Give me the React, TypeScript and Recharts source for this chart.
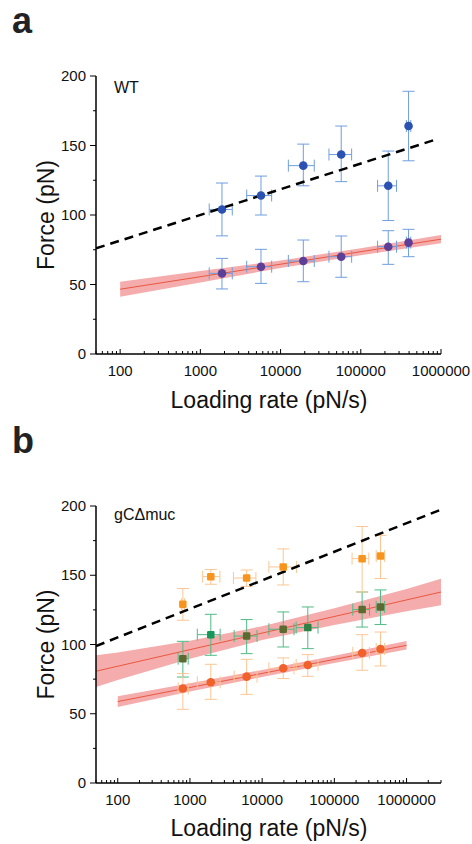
import React from 'react';
import { ComposedChart, XAxis, YAxis, Scatter, ErrorBar, Area, Line } from 'recharts';

const FONT = '"Liberation Sans", Arial, Helvetica, sans-serif';

// ---------- Panel a (WT) ----------
const aRates = [1860, 5700, 19200, 57000, 220000, 394000];
const aRateLo = [1290, 3780, 12500, 40100, 162000, 370000];
const aRateHi = [2500, 7740, 26300, 76900, 279000, 420000];
const aHighForce = [104, 114, 135.5, 143.5, 121, 164];
const aHighLo = [85, 100, 121, 124, 96, 139];
const aHighHi = [123, 128, 151, 164, 146, 189];
const aLowForce = [58, 62.8, 66.9, 70, 77.2, 80.1];
const aLowLo = [46.8, 50.8, 52, 55.2, 64.5, 70];
const aLowHi = [68.8, 75.3, 82, 84.9, 88.7, 89.7];
const aFitX = [100, 1000000];
const aFitY = [46.6, 82.6];
const aBandX = [100, 1000, 10000, 100000, 1000000];
const aBandLo = [41.2, 51.5, 61.9, 71.1, 79.6];
const aBandHi = [52, 59.7, 67.3, 76.1, 85.6];
const aDashX = [50, 830000];
const aDashY = [76, 154];

// ---------- Panel b (gCΔmuc) ----------
const bRates = [798, 1945, 6100, 19600, 42900, 242600, 436000];
const bRateLo = [687, 1265, 4100, 12400, 29600, 180000, 380000];
const bRateHi = [946, 2620, 8500, 27600, 59400, 307000, 497000];
const bGreenForce = [89.8, 107.1, 106.1, 111, 112.2, 125.2, 127.1];
const bGreenLo = [76.5, 92.2, 93.4, 98.2, 97, 112.6, 114.4];
const bGreenHi = [102.3, 121.8, 118, 123.5, 127.1, 137.9, 139.4];
const bLowForce = [68.2, 72.7, 76.8, 82.8, 85.2, 93.9, 96.8];
const bLowLo = [53.2, 60.4, 64, 75.4, 77, 81.4, 84.5];
const bLowHi = [79, 85.7, 89.3, 90.3, 92.7, 107.1, 109];
const bHighRates = [798, 1945, 6100, 19600, 242600, 436000];
const bHighRateLo = [760, 1500, 4000, 12400, 176000, 380000];
const bHighRateHi = [840, 2600, 8200, 30000, 300000, 497000];
const bHighForce = [129.1, 149, 148, 156, 162, 163.9];
const bHighLo = [117.5, 143.5, 142, 143, 137.9, 147.6];
const bHighHi = [140.4, 154.1, 153.8, 169, 185.2, 178.8];
const bFitUX = [50, 3000000];
const bFitUY = [80.7, 137.9];
const bBandUX = [50, 100, 1000, 10000, 100000, 1000000, 3000000];
const bBandULo = [69.3, 74.3, 89.7, 103.2, 114.1, 124, 128.3];
const bBandUHi = [92.2, 94.3, 102.7, 113.2, 126.1, 140, 147.5];
const bFitLX = [100, 1000000];
const bFitLY = [58.8, 99.4];
const bBandLX = [100, 1000, 10000, 100000, 1000000];
const bBandLLo = [54.9, 66, 76.6, 86.6, 96.3];
const bBandLHi = [62.6, 72, 81.6, 91.9, 102.5];
const bDashX = [50, 3000000];
const bDashY = [98.9, 197.4];

// ---------- Ticks ----------
const xMajor = [100, 1000, 10000, 100000, 1000000];
const xMinorMult = [2, 3, 4, 5, 6, 7, 8, 9];
const yTicks = [0, 25, 50, 75, 100, 125, 150, 175, 200];
const yMajor = [0, 50, 100, 150, 200];

// ---------- Marker colours (points seen through the translucent band look tinted) ----------
const BLUE = '#2b52b3';
const BLUE_UNDER_BAND = '#5e3f98';
const BLUE_ERR = '#6f9ee0';
const BAND = '#e84848';
const FIT = '#e9583f';
const ORANGE = '#f7941d';
const ORANGE_UNDER_BAND = '#f0612b';
const ORANGE_ERR = '#fbc693';
const GREEN = '#17985a';
const OLIVE = '#5c6a30';
const GREEN_ERR = '#4fbb85';
const bGreenColors = [OLIVE, GREEN, OLIVE, OLIVE, '#2f8246', OLIVE, OLIVE];

const buildXTicks = (maxV: number) => {
  const t: number[] = [50, 60, 70, 80, 90];
  xMajor.forEach((d) => {
    t.push(d);
    xMinorMult.forEach((m) => {
      if (d * m <= maxV * 1.0001) t.push(d * m);
    });
  });
  return t.filter((v) => v <= maxV * 1.0001);
};

const points = (xs: number[], lo: number[], hi: number[], ys: number[], ylo: number[], yhi: number[]) =>
  xs.map((x, i) => ({
    x,
    y: ys[i],
    idx: i,
    ex: [x - lo[i], hi[i] - x],
    ey: [ys[i] - ylo[i], yhi[i] - ys[i]],
  }));
const line = (xs: number[], ys: number[]) => xs.map((x, i) => ({ x, y: ys[i] }));
const band = (xs: number[], lo: number[], hi: number[]) => xs.map((x, i) => ({ x, range: [lo[i], hi[i]] }));

const isMajorX = (v: number) => xMajor.some((m) => Math.abs(m - v) / m < 1e-6);

const XTick = (props: any) => {
  const { x, y, payload } = props;
  const v = payload.value;
  const major = isMajorX(v);
  return (
    <g>
      <line x1={x} x2={x} y1={y} y2={y - (major ? 5 : 3)} stroke="#000" strokeWidth={1} />
      {major && (
        <text x={x} y={y + 22} textAnchor="middle" fontSize={15} fontFamily={FONT} fill="#111">
          {String(v)}
        </text>
      )}
    </g>
  );
};

const YTick = (props: any) => {
  const { x, y, payload } = props;
  const v = payload.value;
  const major = yMajor.includes(v);
  return (
    <g>
      <line x1={x - (major ? 6 : 3)} x2={x} y1={y} y2={y} stroke="#000" strokeWidth={1} />
      {major && (
        <text x={x - 10} y={y + 5} textAnchor="end" fontSize={15} fontFamily={FONT} fill="#111">
          {String(v)}
        </text>
      )}
    </g>
  );
};

const circleShape = (fill: string, r = 4.3) => (p: any) => <circle cx={p.cx} cy={p.cy} r={r} fill={fill} />;
const squareShape = (fill: string | string[], s = 7.5) => (p: any) => {
  const idx = p.payload && typeof p.payload.idx === 'number' ? p.payload.idx : 0;
  const f = Array.isArray(fill) ? fill[idx] : fill;
  return <rect x={p.cx - s / 2} y={p.cy - s / 2} width={s} height={s} rx={1.2} fill={f} />;
};

const W = 472;
const H = 422;

const axisProps = {
  axisLine: { stroke: '#000', strokeWidth: 1.5 },
  tickLine: false,
  tickSize: 0,
  tickMargin: 0,
  interval: 0 as const,
};

const PanelTexts = ({ top, letter, letterY, note, noteY, plotTop, plotBottom, titleY }: any) => {
  const cy = top + (plotTop + plotBottom) / 2;
  return (
    <g>
      <text x={12} y={top + letterY} fontSize={36} fontWeight="bold" fontFamily={FONT} fill="#222">
        {letter}
      </text>
      <text x={114} y={top + noteY} fontSize={16} fontFamily={FONT} fill="#111">
        {note}
      </text>
      <text
        x={54}
        y={cy}
        transform={`rotate(-90 54 ${cy})`}
        textAnchor="middle"
        fontSize={23}
        fontFamily={FONT}
        fill="#111"
      >
        Force (pN)
      </text>
      <text x={269} y={top + titleY} textAnchor="middle" fontSize={23} fontFamily={FONT} fill="#111">
        Loading rate (pN/s)
      </text>
    </g>
  );
};

const PanelA = () => {
  const hi = points(aRates, aRateLo, aRateHi, aHighForce, aHighLo, aHighHi);
  const lo = points(aRates, aRateLo, aRateHi, aLowForce, aLowLo, aLowHi);
  return (
    <div style={{ position: 'absolute', left: 0, top: 0, width: W, height: H }}>
      <ComposedChart width={W} height={H} margin={{ top: 76, right: 31, bottom: 38, left: 36 }}>
        <XAxis
          dataKey="x"
          type="number"
          scale="log"
          domain={[50, 1000000]}
          allowDataOverflow
          ticks={buildXTicks(1000000)}
          tick={<XTick />}
          height={30}
          {...axisProps}
        />
        <YAxis type="number" domain={[0, 200]} ticks={yTicks} tick={<YTick />} width={60} allowDataOverflow {...axisProps} />
        <Area
          data={band(aBandX, aBandLo, aBandHi)}
          dataKey="range"
          type="linear"
          stroke="none"
          fill={BAND}
          fillOpacity={0.45}
          isAnimationActive={false}
        />
        <Line data={line(aFitX, aFitY)} dataKey="y" type="linear" stroke={FIT} strokeWidth={1} dot={false} isAnimationActive={false} />
        <Scatter data={lo} dataKey="y" shape={circleShape(BLUE_UNDER_BAND)} isAnimationActive={false}>
          <ErrorBar dataKey="ey" direction="y" width={6} stroke={BLUE_ERR} strokeWidth={1} />
          <ErrorBar dataKey="ex" direction="x" width={6} stroke={BLUE_ERR} strokeWidth={1} />
        </Scatter>
        <Scatter data={hi} dataKey="y" shape={circleShape(BLUE)} isAnimationActive={false}>
          <ErrorBar dataKey="ey" direction="y" width={6} stroke={BLUE_ERR} strokeWidth={1} />
          <ErrorBar dataKey="ex" direction="x" width={6} stroke={BLUE_ERR} strokeWidth={1} />
        </Scatter>
        <Line
          data={line(aDashX, aDashY)}
          dataKey="y"
          type="linear"
          stroke="#000"
          strokeWidth={2.5}
          strokeDasharray="9 6"
          dot={false}
          isAnimationActive={false}
        />
      </ComposedChart>
    </div>
  );
};

const PanelB = () => {
  const green = points(bRates, bRateLo, bRateHi, bGreenForce, bGreenLo, bGreenHi);
  const low = points(bRates, bRateLo, bRateHi, bLowForce, bLowLo, bLowHi);
  const high = points(bHighRates, bHighRateLo, bHighRateHi, bHighForce, bHighLo, bHighHi);
  return (
    <div style={{ position: 'absolute', left: 0, top: H, width: W, height: H }}>
      <ComposedChart width={W} height={H} margin={{ top: 84, right: 31, bottom: 31, left: 36 }}>
        <XAxis
          dataKey="x"
          type="number"
          scale="log"
          domain={[50, 3000000]}
          allowDataOverflow
          ticks={buildXTicks(3000000)}
          tick={<XTick />}
          height={30}
          {...axisProps}
        />
        <YAxis type="number" domain={[0, 200]} ticks={yTicks} tick={<YTick />} width={60} allowDataOverflow {...axisProps} />
        <Area
          data={band(bBandUX, bBandULo, bBandUHi)}
          dataKey="range"
          type="linear"
          stroke="none"
          fill={BAND}
          fillOpacity={0.45}
          isAnimationActive={false}
        />
        <Area
          data={band(bBandLX, bBandLLo, bBandLHi)}
          dataKey="range"
          type="linear"
          stroke="none"
          fill={BAND}
          fillOpacity={0.45}
          isAnimationActive={false}
        />
        <Line data={line(bFitUX, bFitUY)} dataKey="y" type="linear" stroke={FIT} strokeWidth={1} dot={false} isAnimationActive={false} />
        <Line data={line(bFitLX, bFitLY)} dataKey="y" type="linear" stroke={FIT} strokeWidth={1} dot={false} isAnimationActive={false} />
        <Scatter data={green} dataKey="y" shape={squareShape(bGreenColors)} isAnimationActive={false}>
          <ErrorBar dataKey="ey" direction="y" width={6} stroke={GREEN_ERR} strokeWidth={1} />
          <ErrorBar dataKey="ex" direction="x" width={6} stroke={GREEN_ERR} strokeWidth={1} />
        </Scatter>
        <Scatter data={low} dataKey="y" shape={circleShape(ORANGE_UNDER_BAND)} isAnimationActive={false}>
          <ErrorBar dataKey="ey" direction="y" width={6} stroke={ORANGE_ERR} strokeWidth={1} />
          <ErrorBar dataKey="ex" direction="x" width={6} stroke={ORANGE_ERR} strokeWidth={1} />
        </Scatter>
        <Scatter data={high} dataKey="y" shape={squareShape(ORANGE)} isAnimationActive={false}>
          <ErrorBar dataKey="ey" direction="y" width={6} stroke={ORANGE_ERR} strokeWidth={1} />
          <ErrorBar dataKey="ex" direction="x" width={6} stroke={ORANGE_ERR} strokeWidth={1} />
        </Scatter>
        <Line
          data={line(bDashX, bDashY)}
          dataKey="y"
          type="linear"
          stroke="#000"
          strokeWidth={2.5}
          strokeDasharray="9 6"
          dot={false}
          isAnimationActive={false}
        />
      </ComposedChart>
    </div>
  );
};

export default function App() {
  return (
    <div style={{ position: 'absolute', left: 0, top: 0, width: W, height: 2 * H, background: '#fff' }}>
      <PanelA />
      <PanelB />
      <svg width={W} height={2 * H} style={{ position: 'absolute', left: 0, top: 0, pointerEvents: 'none' }}>
        <PanelTexts top={0} letter="a" letterY={33} note="WT" noteY={93} plotTop={76} plotBottom={354} titleY={408} />
        <PanelTexts top={H} letter="b" letterY={31} note="gCΔmuc" noteY={98} plotTop={84} plotBottom={361} titleY={414} />
      </svg>
    </div>
  );
}
